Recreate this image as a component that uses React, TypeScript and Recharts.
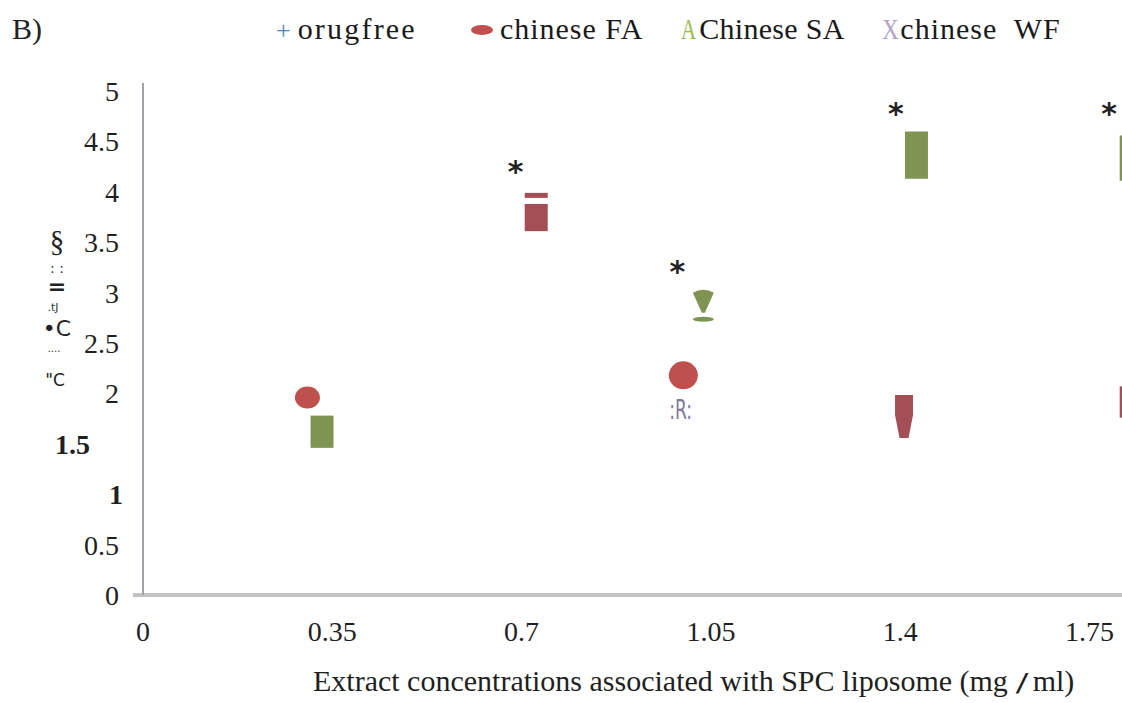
import React from 'react';
import { ScatterChart, Scatter, XAxis, YAxis, ErrorBar } from 'recharts';

// ---- axis ticks ----
const xTicks = [0, 0.35, 0.7, 1.05, 1.4, 1.75];
const yTicks = [0, 0.5, 1, 1.5, 2, 2.5, 3, 3.5, 4, 4.5, 5];

// ---- legend ----
const legendNames = ['orugfree', 'chinese FA', 'Chinese SA', 'chinese\u00a0 WF'];
const legendGlyphs = ['+', '', 'A', 'X'];

// ---- series values ----
const faCircles = [
  { x: 0.304, y: 1.96 },
  { x: 0.999, y: 2.18 },
];
const faBars = [
  { x: 0.727, lo: 3.61, hi: 3.88 },
  { x: 0.727, lo: 3.94, hi: 3.99 },
  { x: 1.827, lo: 1.76, hi: 2.07 },
];
const faTapers = [{ x: 1.407, y: 1.77 }];
const saBars = [
  { x: 0.331, lo: 1.46, hi: 1.78 },
  { x: 1.43, lo: 4.13, hi: 4.6 },
  { x: 1.827, lo: 4.11, hi: 4.56 },
];
const saFunnels = [{ x: 1.036, y: 2.87 }];
const wfMarks = [{ x: 0.994, y: 1.85 }];
const stars = [
  { x: 0.689, y: 4.27 },
  { x: 0.988, y: 3.27 },
  { x: 1.392, y: 4.84 },
  { x: 1.786, y: 4.84 },
];

const toBar = (d: { x: number; lo: number; hi: number }) => ({ x: d.x, y: d.lo, err: [0, d.hi - d.lo] });
const faBarData = faBars.map(toBar);
const saBarData = saBars.map(toBar);

const RED = '#c0504d';
const DARKRED = '#a44f56';
const GREEN = '#7f9450';
const SERIF = '"Liberation Serif", "Times New Roman", serif';
const SANS = "'DejaVu Sans', sans-serif";

// legend layout
const legendSpacing = [2.2, 1, 0.3, 1];
const legendGaps = [54, 38, 37, 0];
const glyphColors = ['#4f81bd', RED, '#9bbb59', '#b3a2c7'];
const glyphSizes = [26, 30, 30, 30];
const glyphScale = [1, 1, 0.7, 0.78];
const glyphGaps = [7, 7, -4, -3];

const YTick = (props: any) => {
  const { x, y, payload } = props;
  const v = payload.value;
  const strong = v === 1 || v === 1.5;
  const dx = v === 1.5 ? -29 : v === 1 ? 4 : 0;
  return (
    <text x={x + dx} y={y + 10} textAnchor="end" fontFamily={SERIF} fontSize={28} fontWeight={strong ? 700 : 400} fill="#1f1f1f">
      {String(v)}
    </text>
  );
};

const XTick = (props: any) => {
  const { x, y, payload } = props;
  return (
    <text x={x} y={y + 46} textAnchor="middle" fontFamily={SERIF} fontSize={28} fill="#1f1f1f">
      {String(payload.value)}
    </text>
  );
};

const Empty = () => <g />;

const CircleShape = (p: any) => {
  const big = p.index === 1;
  return <ellipse cx={p.cx} cy={p.cy} rx={big ? 14.5 : 12.5} ry={big ? 14 : 11} fill={RED} />;
};

const TaperShape = (p: any) => {
  const { cx, cy } = p;
  const d = `M${cx - 9},${cy - 21.5} L${cx + 9},${cy - 21.5} L${cx + 9},${cy - 1.5} L${cx + 4.5},${cy + 21.5} L${cx - 4.5},${cy + 21.5} L${cx - 9},${cy - 1.5} Z`;
  return <path d={d} fill={DARKRED} />;
};

const FunnelShape = (p: any) => {
  const { cx, cy } = p;
  const d = `M${cx - 10.5},${cy - 13} Q${cx},${cy - 19} ${cx + 10.5},${cy - 13} L${cx + 1.5},${cy + 7} L${cx - 1.5},${cy + 7} Z`;
  return (
    <g>
      <path d={d} fill={GREEN} />
      <ellipse cx={cx} cy={cy + 13.5} rx={10.5} ry={2.5} fill={GREEN} />
    </g>
  );
};

const WfShape = (p: any) => (
  <text x={p.cx} y={p.cy + 10} textAnchor="middle" fontFamily={SANS} fontSize={26} fill="#80799a" textLength={23} lengthAdjust="spacingAndGlyphs">
    :R:
  </text>
);

const StarShape = (p: any) => (
  <text x={p.cx} y={p.cy + 17} textAnchor="middle" fontFamily={SANS} fontWeight={700} fontSize={30} fill="#222">
    *
  </text>
);

export default function App() {
  return (
    <div style={{ position: 'absolute', left: 0, top: 0, width: 1122, height: 703, background: '#fff', overflow: 'hidden' }}>
      <ScatterChart width={1122} height={703} margin={{ top: 83, right: 0, bottom: 0, left: 0 }}>
        <XAxis
          type="number"
          dataKey="x"
          domain={[0, 1.81]}
          ticks={xTicks}
          allowDataOverflow
          height={108}
          axisLine={{ stroke: '#c3c3c3', strokeWidth: 4 }}
          tickLine={false}
          tickSize={0}
          tickMargin={0}
          tick={<XTick />}
        />
        <YAxis
          type="number"
          dataKey="y"
          domain={[0, 5.08]}
          ticks={yTicks}
          allowDataOverflow
          width={143}
          axisLine={{ stroke: '#9ea3a8', strokeWidth: 2 }}
          tickLine={false}
          tickSize={0}
          tickMargin={24}
          tick={<YTick />}
        />
        <Scatter name="chinese FA bars" data={faBarData} shape={<Empty />} isAnimationActive={false}>
          <ErrorBar dataKey="err" direction="y" width={0} strokeWidth={23} stroke={DARKRED} isAnimationActive={false} />
        </Scatter>
        <Scatter name="Chinese SA bars" data={saBarData} shape={<Empty />} isAnimationActive={false}>
          <ErrorBar dataKey="err" direction="y" width={0} strokeWidth={23} stroke={GREEN} isAnimationActive={false} />
        </Scatter>
        <Scatter name="chinese FA" data={faCircles} shape={CircleShape} isAnimationActive={false} />
        <Scatter name="chinese FA taper" data={faTapers} shape={TaperShape} isAnimationActive={false} />
        <Scatter name="Chinese SA" data={saFunnels} shape={FunnelShape} isAnimationActive={false} />
        <Scatter name="chinese WF" data={wfMarks} shape={WfShape} isAnimationActive={false} />
        <Scatter name="significance" data={stars} shape={StarShape} isAnimationActive={false} />
        <g>
          <line x1={133} x2={144} y1={595} y2={595} stroke="#c3c3c3" strokeWidth={4} />
          <text x={57} y={251} textAnchor="middle" fontFamily={SERIF} fontSize={29} fill="#222">§</text>
          <text x={57} y={273} textAnchor="middle" fontFamily={SANS} fontSize={14} fill="#333">: :</text>
          <text x={57} y={294} textAnchor="middle" fontFamily={SANS} fontWeight={700} fontSize={22} fill="#222">=</text>
          <text x={53} y={311} textAnchor="middle" fontFamily={SANS} fontSize={11} fill="#333">.tJ</text>
          <text x={57} y={336} textAnchor="middle" fontFamily={SANS} fontSize={22} fill="#222">•C</text>
          <text x={54} y={352} textAnchor="middle" fontFamily={SANS} fontSize={10} fill="#333">....</text>
          <text x={55} y={386} textAnchor="middle" fontFamily={SANS} fontSize={17} fill="#222">"C</text>
          <text x={313} y={691} fontFamily={SERIF} fontSize={30} fill="#1f1f1f">
            Extract concentrations associated with SPC liposome (mg
            <tspan dx={10} fontFamily={SANS} fontWeight={700} fontStyle="italic" fontSize={24}>/</tspan>
            <tspan dx={6}>ml)</tspan>
          </text>
        </g>
      </ScatterChart>
      <div style={{ position: 'absolute', left: 12, top: 14, fontFamily: SERIF, fontSize: 30, lineHeight: '30px', color: '#222' }}>B)</div>
      <div
        style={{
          position: 'absolute',
          left: 276,
          top: 14,
          display: 'flex',
          alignItems: 'baseline',
          fontFamily: SERIF,
          fontSize: 30,
          lineHeight: '30px',
          color: '#1a1a1a',
          whiteSpace: 'pre',
        }}
      >
        {legendNames.map((name, i) => (
          <div key={name} style={{ display: 'flex', alignItems: 'baseline', marginRight: legendGaps[i] }}>
            {i === 1 ? (
              <span style={{ display: 'inline-block', width: 22, height: 10, borderRadius: '50%', background: glyphColors[i], marginRight: glyphGaps[i], alignSelf: 'center', position: 'relative', top: 1 }} />
            ) : (
              <span
                style={{
                  display: 'inline-block',
                  color: glyphColors[i],
                  fontSize: glyphSizes[i],
                  marginRight: glyphGaps[i],
                  transform: `scaleX(${glyphScale[i]})`,
                  transformOrigin: 'left center',
                }}
              >
                {legendGlyphs[i]}
              </span>
            )}
            <span style={{ letterSpacing: legendSpacing[i] }}>{name}</span>
          </div>
        ))}
      </div>
    </div>
  );
}
